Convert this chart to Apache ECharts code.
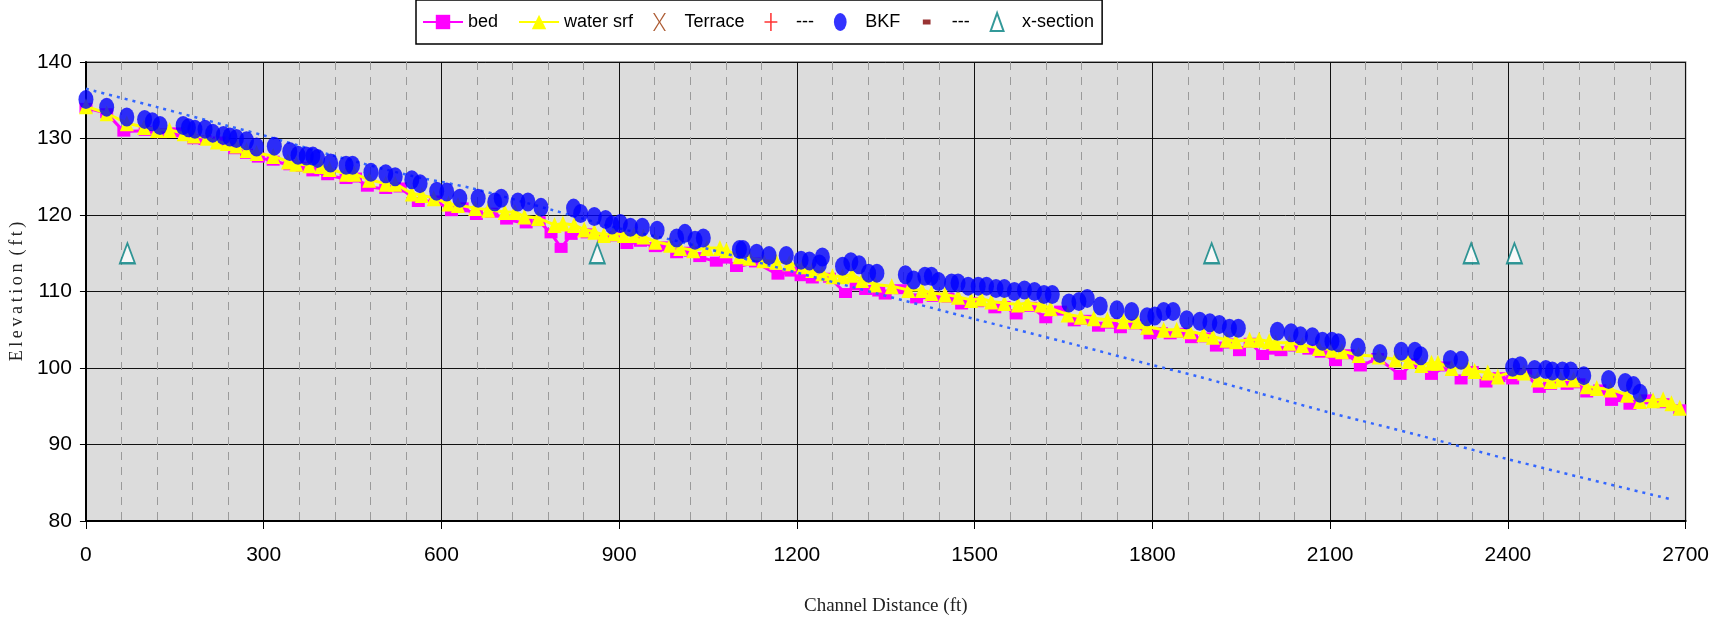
<!DOCTYPE html>
<html>
<head>
    <meta charset="utf-8" />
    <title>Channel profile</title>
    <script src="https://cdn.jsdelivr.net/npm/echarts@6/dist/echarts.min.js"></script>
    <style>html, body { margin: 0; padding: 0; background: #fff; }</style>
</head>
<body>
<div id="main" style="width: 1712px;height:621px;"></div>
<script type="text/javascript">
    // axis ticks
    var xTicks = [0, 300, 600, 900, 1200, 1500, 1800, 2100, 2400, 2700];
    var yTicks = [80, 90, 100, 110, 120, 130, 140];

    // bed elevation [distance, elevation]
    var bed = [[0,134.0],[35,133.3],[64,130.9],[100,131.0],[126,130.7],[150,130.8],[182,129.9],[201,129.8],[225,129.6],[251,128.6],
        [271,128.0],[291,127.5],[316,127.1],[344,126.5],[365,126.3],[383,125.7],[408,125.2],[439,124.7],[455,124.9],[475,123.7],
        [506,123.4],[530,123.6],[561,121.7],[590,121.9],[617,120.5],[635,121.0],[659,120.0],[685,120.3],[710,119.4],[743,118.9],
        [765,119.2],[785,117.6],[802,115.7],[819,117.4],[846,117.6],[874,117.0],[895,117.2],[913,116.2],[936,116.5],[961,115.8],
        [980,115.9],[997,115.0],[1020,115.2],[1036,114.5],[1064,113.9],[1080,114.3],[1098,113.2],[1130,113.8],[1168,112.2],[1190,112.6],
        [1207,112.0],[1226,111.7],[1255,111.8],[1282,109.8],[1300,110.8],[1316,110.2],[1338,110.0],[1349,109.6],[1375,110.3],[1402,109.1],
        [1430,109.3],[1455,109.2],[1478,108.3],[1505,108.6],[1534,107.8],[1550,108.1],[1570,107.0],[1595,108.0],[1620,106.5],[1645,107.5],
        [1668,106.1],[1690,106.3],[1709,105.4],[1730,105.8],[1746,105.2],[1770,105.7],[1796,104.4],[1815,104.7],[1830,104.4],[1850,104.6],
        [1866,103.9],[1890,104.0],[1908,102.8],[1930,103.2],[1947,102.2],[1965,103.3],[1986,101.7],[2003,102.4],[2017,102.2],[2040,102.8],
        [2064,102.4],[2085,102.0],[2109,100.9],[2130,101.8],[2151,100.2],[2180,101.3],[2218,99.1],[2240,100.6],[2271,99.1],[2295,100.2],
        [2321,98.5],[2340,99.6],[2363,98.1],[2385,98.8],[2408,98.5],[2430,99.2],[2453,97.4],[2472,97.8],[2500,97.8],[2520,98.0],
        [2533,96.8],[2555,97.2],[2575,95.7],[2590,96.2],[2606,95.2],[2634,95.9],[2662,95.4],[2690,94.6]];

    // water surface
    var water = [[0,134.2],[35,133.3],[69,132.0],[98,131.5],[120,131.1],[141,131.1],[165,130.7],[182,130.4],[204,130.1],[221,129.6],
        [238,129.4],[254,129.1],[271,128.5],[288,128.1],[316,127.7],[341,127.0],[355,126.7],[377,126.5],[397,126.4],[411,126.0],
        [439,125.4],[453,125.4],[478,124.6],[506,124.1],[522,124.1],[550,122.8],[567,122.6],[587,122.2],[612,121.5],[628,121.3],
        [657,120.9],[679,120.7],[707,120.4],[724,120.4],[740,119.8],[763,119.6],[791,118.7],[805,118.9],[824,118.7],[841,118.1],
        [858,117.8],[874,117.4],[891,117.6],[908,117.4],[925,117.4],[941,117.2],[961,116.5],[986,116.1],[1003,115.7],[1025,115.4],
        [1048,115.7],[1070,115.7],[1081,115.4],[1103,114.6],[1120,114.4],[1143,114.1],[1165,113.9],[1187,113.7],[1210,113.3],[1226,112.8],
        [1243,112.4],[1260,112.0],[1277,112.0],[1293,112.2],[1310,111.5],[1332,110.9],[1360,110.7],[1388,110.2],[1411,110.2],[1427,109.8],
        [1450,109.6],[1472,109.3],[1494,108.9],[1511,109.1],[1528,108.7],[1550,108.5],[1573,108.3],[1589,108.5],[1612,108.3],[1628,107.8],
        [1657,107.0],[1679,106.7],[1701,106.5],[1724,106.3],[1751,106.1],[1774,106.1],[1791,105.4],[1819,105.0],[1841,105.0],[1863,104.8],
        [1886,104.4],[1902,104.1],[1925,103.7],[1941,103.5],[1964,103.7],[1980,103.7],[1997,103.5],[2008,103.3],[2031,103.3],[2053,103.0],
        [2081,102.6],[2103,102.4],[2120,102.2],[2148,101.7],[2182,101.5],[2210,101.1],[2232,100.9],[2254,100.4],[2271,100.7],[2282,100.7],
        [2305,100.0],[2332,100.0],[2344,99.6],[2366,99.4],[2383,98.9],[2411,99.6],[2427,99.4],[2450,98.5],[2472,98.3],[2489,98.5],
        [2511,98.5],[2533,97.6],[2550,97.4],[2573,97.2],[2601,96.5],[2623,95.7],[2645,95.8],[2662,95.9],[2676,95.4],[2690,94.8]];

    // bankfull points
    var bkf = [[0,135.1],[35,134.1],[69,132.8],[99,132.5],[112,132.2],[125,131.7],[164,131.7],[173,131.4],[184,131.2],[201,131.2],
        [214,130.7],[232,130.4],[243,130.2],[254,130.0],[271,129.7],[288,128.9],[318,129.0],[344,128.3],[358,127.8],[372,127.7],
        [383,127.7],[391,127.4],[413,126.8],[439,126.5],[450,126.5],[481,125.6],[506,125.4],[522,125.0],[550,124.6],[564,124.1],
        [592,123.1],[609,123.0],[631,122.2],[662,122.2],[690,121.7],[701,122.2],[729,121.7],[746,121.7],[768,121.0],[823,120.9],
        [835,120.2],[858,119.8],[877,119.4],[888,118.7],[902,118.9],[919,118.4],[939,118.4],[964,118.0],[997,117.0],[1011,117.6],
        [1028,116.7],[1042,117.0],[1103,115.5],[1109,115.5],[1132,115.0],[1153,114.7],[1182,114.7],[1207,114.1],[1221,114.0],[1238,113.6],
        [1243,114.5],[1277,113.3],[1291,113.9],[1305,113.5],[1321,112.4],[1335,112.4],[1383,112.2],[1397,111.5],[1416,112.0],[1427,112.0],
        [1439,111.3],[1461,111.1],[1472,111.1],[1489,110.7],[1506,110.7],[1520,110.7],[1536,110.4],[1550,110.4],[1567,110.0],[1584,110.2],
        [1601,110.0],[1617,109.6],[1631,109.6],[1659,108.5],[1676,108.7],[1690,109.1],[1712,108.1],[1740,107.6],[1765,107.4],[1791,106.7],
        [1804,106.8],[1819,107.4],[1835,107.4],[1858,106.3],[1880,106.1],[1897,105.9],[1913,105.7],[1930,105.2],[1945,105.2],[2011,104.8],
        [2034,104.6],[2050,104.2],[2070,104.1],[2087,103.5],[2103,103.5],[2114,103.3],[2147,102.7],[2184,101.9],[2220,102.2],[2243,102.2],
        [2253,101.6],[2303,101.1],[2321,101.0],[2408,100.1],[2421,100.3],[2445,99.8],[2464,99.8],[2475,99.6],[2492,99.6],[2506,99.6],
        [2528,99.0],[2570,98.5],[2598,98.1],[2612,97.7],[2623,96.7]];

    // cross section locations
    var xsection = [[70,115],[863,115],[1900,115],[2338,115],[2411,115]];

    // dotted trend line (no legend entry)
    var trend = [[0,136.5],[120,134.1],[237,131.7],[300,130.4],[416,127.8],[545,125.2],[651,123.5],[785,120.7],[897,118.3],[1003,116.5],
        [1159,113.3],[1332,109.8],[1500,106.4],[1657,103.3],[1799,100.4],[1877,98.9],[2098,94.2],[2250,91.2],[2399,88.1],[2677,82.8]];

    // marker shapes
    var xMark = 'path://M0,0 L1.2,0 L5,6.2 L8.8,0 L10,0 L5.6,7 L10,14 L8.8,14 L5,7.8 L1.2,14 L0,14 L4.4,7 Z';
    var plusMark = 'path://M4.4,0 H5.6 V6.4 H10 V7.6 H5.6 V14 H4.4 V7.6 H0 V6.4 H4.4 Z';
    var dashMark = 'path://M0,0 L0.01,0 L0,0.01 Z M2,5 H8 V9 H2 Z M10,14 L9.99,14 L10,13.99 Z';
    var ellipseMark = 'path://M0,-8.5 A6,8.5 0 1 1 0,8.5 A6,8.5 0 1 1 0,-8.5 Z';
    var triMark = 'path://M5,0 L10,14 L0,14 Z';

    var legendNames = [
        { name: 'bed' },
        { name: 'water srf' },
        { name: 'Terrace' },
        { name: '---' },
        { name: 'BKF' },
        { name: '---\u200b' },
        { name: 'x-section', icon: triMark }
    ];

    var tickFont = "'Liberation Sans Narrow', 'Arial Narrow', 'Liberation Sans', sans-serif";
    var sp = '\u2009';

    var myChart = echarts.init(document.getElementById('main'));
    var option = {
        animation: false,
        backgroundColor: '#ffffff',
        legend: {
            data: legendNames,
            left: 416,
            top: 0,
            padding: [12, 8, 12, 6],
            itemWidth: 40,
            itemHeight: 18,
            itemGap: 20,
            backgroundColor: '#ffffff',
            borderColor: '#000000',
            borderWidth: 1.5,
            textStyle: { fontFamily: 'Liberation Sans', fontSize: 18, color: '#000' },
            selectedMode: false
        },
        grid: {
            left: 78,
            right: 23,
            top: 62,
            bottom: 99,
            show: true,
            backgroundColor: '#dcdcdc',
            borderColor: '#808080',
            borderWidth: 1.5
        },
        xAxis: {
            type: 'value',
            min: xTicks[0],
            max: xTicks[xTicks.length - 1],
            interval: 300,
            name: 'Channel Distance (ft)',
            nameLocation: 'middle',
            nameGap: 76,
            nameTextStyle: { fontFamily: 'Liberation Serif', fontSize: 19, color: '#222' },
            axisLine: { lineStyle: { color: '#000', width: 2 } },
            axisTick: { length: 8, lineStyle: { color: '#000', width: 1 } },
            axisLabel: {
                margin: 24, fontFamily: tickFont, fontSize: 21, color: '#000',
                formatter: function (v) { return String(v); }
            },
            splitLine: { lineStyle: { color: '#111', width: 1 } },
            minorTick: { show: false, splitNumber: 5 },
            minorSplitLine: { show: true, lineStyle: { color: '#9a9a9a', width: 1, type: [8, 7] } }
        },
        yAxis: {
            type: 'value',
            min: yTicks[0],
            max: yTicks[yTicks.length - 1],
            interval: 10,
            name: ['E', 'l', 'e', 'v', 'a', 't', 'i', 'o', 'n', ' (', 'f', 't', ')'].join(sp),
            nameLocation: 'middle',
            nameGap: 55,
            nameTextStyle: { fontFamily: 'Liberation Serif', fontSize: 18, color: '#222' },
            axisLine: { show: true, lineStyle: { color: '#000', width: 2 } },
            axisTick: { show: true, length: 6, lineStyle: { color: '#000', width: 1 } },
            axisLabel: {
                margin: 14, fontFamily: tickFont, fontSize: 21, color: '#000',
                formatter: function (v) { return String(v); }
            },
            splitLine: { lineStyle: { color: '#111', width: 1 } }
        },
        series: [
            {
                name: 'bed',
                type: 'line',
                data: bed,
                symbol: 'rect',
                symbolSize: [13, 10],
                showAllSymbol: true,
                itemStyle: { color: '#ff00ff' },
                lineStyle: { color: '#ff00ff', width: 3 },
                z: 2
            },
            {
                name: 'water srf',
                type: 'line',
                data: water,
                symbol: 'triangle',
                symbolSize: [14, 16],
                showAllSymbol: true,
                itemStyle: { color: '#ffff00' },
                lineStyle: { color: '#ffff00', width: 3 },
                z: 3
            },
            {
                name: 'Terrace',
                type: 'scatter',
                data: [],
                symbol: xMark,
                itemStyle: { color: '#993300' }
            },
            {
                name: '---',
                type: 'scatter',
                data: [],
                symbol: plusMark,
                itemStyle: { color: '#ff0000' }
            },
            {
                name: 'trend',
                type: 'line',
                data: trend,
                symbol: 'none',
                smooth: 0.3,
                lineStyle: { color: '#3366ff', width: 2.5, type: [3, 5] },
                z: 4
            },
            {
                name: 'BKF',
                type: 'scatter',
                data: bkf,
                symbol: ellipseMark,
                symbolSize: [15, 19],
                itemStyle: { color: '#0000ff' },
                z: 5
            },
            {
                name: '---\u200b',
                type: 'scatter',
                data: [],
                symbol: dashMark,
                itemStyle: { color: '#800000' }
            },
            {
                name: 'x-section',
                type: 'scatter',
                data: xsection,
                symbol: 'triangle',
                symbolSize: [15, 20],
                itemStyle: { color: '#ffffff', borderColor: '#008080', borderWidth: 2 },
                z: 6
            }
        ]
    };
    myChart.setOption(option);
</script>
</body>
</html>
